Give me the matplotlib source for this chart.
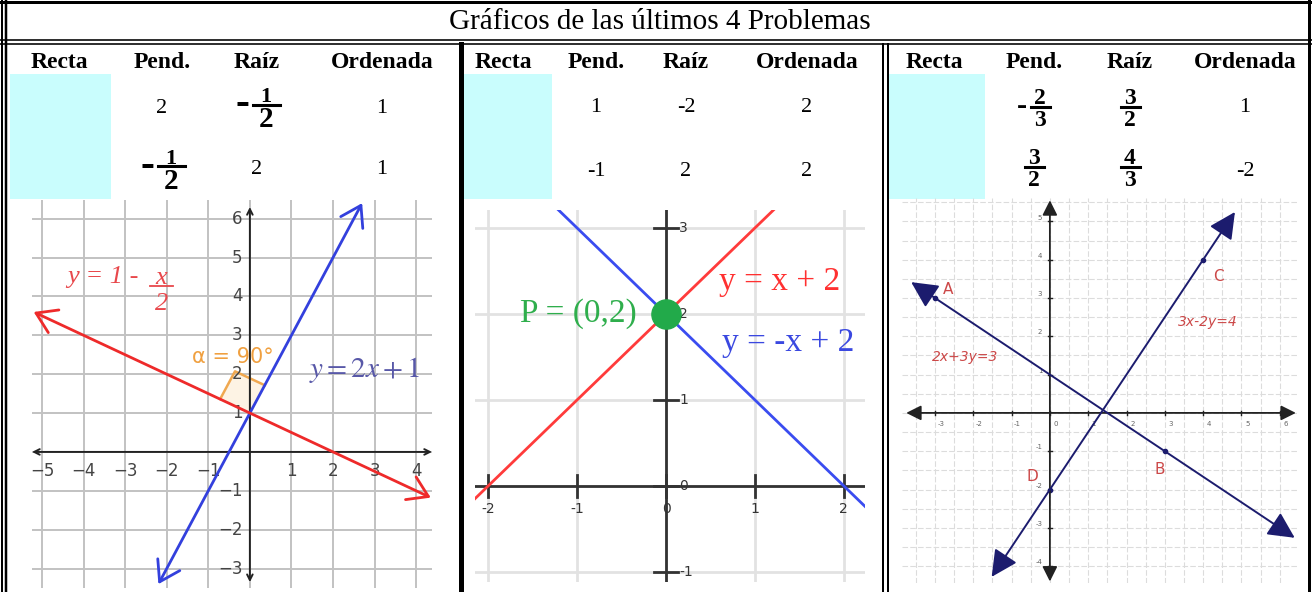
import numpy as np
import matplotlib
matplotlib.use('Agg')
import matplotlib.pyplot as plt
from matplotlib.patches import Rectangle, Polygon

plt.rcParams['mathtext.fontset'] = 'stix'

# ---- datos de las tablas ----
title = 'Gráficos de las últimos 4 Problemas'
headers = ['Recta', 'Pend.', 'Raíz', 'Ordenada']

p1_pend = ['2', '-1/2']
p1_raiz = ['-1/2', '2']
p1_ord = ['1', '1']

p2_pend = ['1', '-1']
p2_raiz = ['-2', '2']
p2_ord = ['2', '2']

p3_pend = ['-2/3', '3/2']
p3_raiz = ['3/2', '4/3']
p3_ord = ['1', '-2']

# ---- datos de los graficos ----
# problema 1: y = m x + b
p1_slopes = [2, -0.5]
p1_intercepts = [1, 1]
p1_xends = [(-2.2, 2.7), (-5.2, 4.35)]
p1_xticks = [-5, -4, -3, -2, -1, 1, 2, 3, 4]
p1_yticks = [-3, -2, -1, 1, 2, 3, 4, 5, 6]

# problema 2
p2_slopes = [1, -1]
p2_intercepts = [2, 2]
p2_point = (0, 2)
p2_ticks_x = [-2, -1, 0, 1, 2]
p2_ticks_y = [-1, 0, 1, 2, 3]

# problema 3: a x + b y = c
p3_a = [2, 3]
p3_b = [3, -2]
p3_c = [3, 4]
p3_xends = [(-3.62, 6.39), (-1.52, 4.83)]
p3_dots_x = [[-3, 3], [4, 0]]
p3_xticks = [-3, -2, -1, 0, 1, 2, 3, 4, 5, 6]
p3_yticks = [-4, -3, -2, -1, 1, 2, 3, 4, 5]

W, H = 1312, 592
fig = plt.figure(figsize=(W / 100, H / 100), dpi=100)
ax0 = fig.add_axes([0, 0, 1, 1])
ax0.set_xlim(0, W)
ax0.set_ylim(H, 0)
ax0.axis('off')

SERIF = 'Liberation Serif'


def px_axes(x0, y0, x1, y1):
    return fig.add_axes([x0 / W, 1 - y1 / H, (x1 - x0) / W, (y1 - y0) / H])


def put_value(x, y, ybar, s, st):
    if '/' not in s:
        ax0.text(x, y, s, ha='center', va='center', fontsize=16, family=SERIF)
        return
    neg = s.startswith('-')
    num, den = s.lstrip('-').split('/')
    cx = x + st['shift'] if neg else x
    w = st['barw']
    ax0.plot([cx - w / 2, cx + w / 2], [ybar, ybar], color='black', lw=2.2)
    ax0.text(cx, ybar - 2.5, num, ha='center', va='baseline', fontsize=st['num_fs'],
             fontweight='bold', family=SERIF)
    ax0.text(cx, ybar + 3 + st['den_fs'] * 1.389 * 0.68, den, ha='center',
             va='baseline', fontsize=st['den_fs'], fontweight='bold', family=SERIF)
    if neg:
        fs = st['minus_fs']
        ax0.text(cx - w / 2 - 3, ybar + 0.23 * fs * 1.389, '-', ha='right',
                 va='baseline', fontsize=fs, fontweight='bold', family=SERIF)


def draw_table(cols, rows_y, bars_y, cyan, pend, raiz, orde, st):
    ax0.add_patch(Rectangle((cyan[0], 74), cyan[1] - cyan[0], 125,
                            color='#c9fdfd', lw=0, zorder=0))
    for cx, h in zip(cols, headers):
        ax0.text(cx, 62, h, ha='center', va='center', fontsize=17,
                 fontweight='bold', family=SERIF)
    for i, (y, yb) in enumerate(zip(rows_y, bars_y)):
        put_value(cols[1], y, yb, pend[i], st)
        put_value(cols[2], y, yb, raiz[i], st)
        put_value(cols[3], y, yb, orde[i], st)


ax0.text(660, 22, title, ha='center', va='center', fontsize=21, family=SERIF)
st1 = dict(barw=27, num_fs=16, den_fs=21, minus_fs=30, shift=9)
st3 = dict(barw=19, num_fs=17, den_fs=17, minus_fs=22, shift=6)
draw_table([59, 162, 257, 382], [108.5, 170], [104.5, 166], (10, 111),
           p1_pend, p1_raiz, p1_ord, st1)
draw_table([503, 596, 686, 807], [107.5, 172], [104, 168], (462, 552),
           p2_pend, p2_raiz, p2_ord, st1)
draw_table([934, 1034, 1130, 1245], [108, 172], [107, 167], (887, 985),
           p3_pend, p3_raiz, p3_ord, st3)

# bordes de la tabla
k = 0.72
ax0.plot([0, W], [1.5, 1.5], color='black', lw=3 * k)
ax0.plot([0, W], [40, 40], color='black', lw=1.6 * k)
ax0.plot([0, W], [44, 44], color='black', lw=1.6 * k)
ax0.plot([1.5, 1.5], [0, H], color='black', lw=2 * k)
ax0.plot([5.5, 5.5], [0, H], color='black', lw=2.5 * k)
ax0.plot([1309, 1309], [0, H], color='black', lw=3 * k)
ax0.plot([460.5, 460.5], [44, H], color='black', lw=5 * k)
ax0.plot([883, 883], [44, H], color='black', lw=2 * k)
ax0.plot([888, 888], [44, H], color='black', lw=2 * k)

# ---------- grafico 1 ----------
ax1 = px_axes(32, 200, 432, 588)
ax1.set_xlim(-5.24, 4.38)
ax1.set_ylim(-3.5, 6.48)
ax1.axis('off')
for x in range(-5, 5):
    ax1.axvline(x, color='#c2c2c2', lw=1.4, zorder=0)
for y in range(-3, 7):
    ax1.axhline(y, color='#c2c2c2', lw=1.4, zorder=0)
ax1.annotate('', xy=(4.38, 0), xytext=(-5.24, 0),
             arrowprops=dict(arrowstyle='<->', color='#222222', lw=1.4,
                             mutation_scale=10, shrinkA=0, shrinkB=0))
ax1.annotate('', xy=(0, 6.3), xytext=(0, -3.35),
             arrowprops=dict(arrowstyle='<->', color='#222222', lw=1.4,
                             mutation_scale=10, shrinkA=0, shrinkB=0))
for x in p1_xticks:
    ax1.text(x, -0.5, str(x).replace('-', '\u2212'), ha='center', va='center',
             fontsize=12, color='#444444')
for y in p1_yticks:
    ax1.text(-0.18, y, str(y).replace('-', '\u2212'), ha='right', va='center',
             fontsize=12, color='#444444')

# angulo recto
r = np.array([-2, 1]) / np.sqrt(5)
b = np.array([1, 2]) / np.sqrt(5)
o = np.array([0, 1])
s = 0.8
pts = [o, o + s * r, o + s * (r + b), o + s * b]
ax1.add_patch(Polygon(pts, closed=True, fc='#f6b04a', alpha=0.15, lw=0))
ax1.plot([pts[1][0], pts[2][0], pts[3][0]], [pts[1][1], pts[2][1], pts[3][1]],
         color='#f0a850', lw=1.8)

p1_colors = ['#3340dd', '#ee2a2a']
for m, c, (xa, xb), col in zip(p1_slopes, p1_intercepts, p1_xends, p1_colors):
    ax1.annotate('', xy=(xb, m * xb + c), xytext=(xa, m * xa + c),
                 arrowprops=dict(arrowstyle='<->,head_length=0.7,head_width=0.45',
                                 color=col, lw=2, mutation_scale=20,
                                 shrinkA=0, shrinkB=0))
red_lab = '#e8484c'
ax1.text(-4.4, 4.5, 'y = 1 -', color=red_lab, fontsize=19, family=SERIF,
         style='italic', ha='left', va='center')
ax1.text(-2.13, 4.33, 'x', color=red_lab, fontsize=19, family=SERIF,
         style='italic', ha='center', va='baseline')
ax1.plot([-2.4, -1.86], [4.27, 4.27], color=red_lab, lw=1.3)
ax1.text(-2.13, 3.66, '2', color=red_lab, fontsize=19, family=SERIF,
         style='italic', ha='center', va='baseline')
ax1.text(-0.4, 2.45, 'α = 90°', color='#f0a040', fontsize=15, ha='center', va='center')
ax1.text(2.75, 2.1, r'$y = 2x + 1$', color='#5858a8', fontsize=21,
         ha='center', va='center')

# ---------- grafico 2 ----------
ax2 = px_axes(475, 210, 865, 582)
ax2.set_xlim(-2.15, 2.24)
ax2.set_ylim(-1.12, 3.21)
ax2.axis('off')
for x in p2_ticks_x:
    ax2.axvline(x, color='#e2e2e2', lw=2, zorder=0)
for y in p2_ticks_y:
    ax2.axhline(y, color='#e2e2e2', lw=2, zorder=0)
ax2.axhline(0, color='#333333', lw=2, zorder=1)
ax2.axvline(0, color='#333333', lw=2, zorder=1)
for x in p2_ticks_x:
    ax2.plot([x, x], [-0.13, 0.13], color='#333333', lw=2)
    ax2.text(x, -0.27, str(x), ha='center', va='center', fontsize=10, color='#333333')
for y in p2_ticks_y:
    ax2.plot([-0.13, 0.13], [y, y], color='#333333', lw=2)
    ax2.text(0.15, y, str(y), ha='left', va='center', fontsize=10, color='#333333')
xx = np.array([-2.15, 2.24])
p2_colors = ['#ff3b3b', '#3a4cf0']
for m, c, col in zip(p2_slopes, p2_intercepts, p2_colors):
    ax2.plot(xx, m * xx + c, color=col, lw=2)
ax2.plot(*p2_point, 'o', ms=21, color='#22aa4a', zorder=5)
ax2.text(-0.33, 2.0, 'P = (0,2)', color='#2fae4c', fontsize=24, family=SERIF,
         ha='right', va='center')
ax2.text(0.6, 2.37, 'y = x + 2', color='#ff3030', fontsize=24, family=SERIF,
         ha='left', va='center')
ax2.text(0.63, 1.67, 'y = -x + 2', color='#3a48e0', fontsize=24, family=SERIF,
         ha='left', va='center')

# ---------- grafico 3 ----------
ax3 = px_axes(902, 198, 1297, 583)
ax3.set_xlim(-3.86, 6.45)
ax3.set_ylim(-4.44, 5.61)
ax3.axis('off')
for x in np.arange(-3.5, 6.5, 0.5):
    ax3.axvline(x, color='#dcdcdc', lw=0.8, ls=(0, (5, 2)), zorder=0)
for y in np.arange(-4.0, 5.6, 0.5):
    ax3.axhline(y, color='#dcdcdc', lw=0.8, ls=(0, (5, 2)), zorder=0)
ax3.annotate('', xy=(6.42, 0), xytext=(-3.75, 0),
             arrowprops=dict(arrowstyle='<|-|>,head_length=0.6,head_width=0.3',
                             color='#222222', lw=1.3, mutation_scale=15,
                             shrinkA=0, shrinkB=0))
ax3.annotate('', xy=(0, 5.55), xytext=(0, -4.4),
             arrowprops=dict(arrowstyle='<|-|>,head_length=0.6,head_width=0.3',
                             color='#222222', lw=1.3, mutation_scale=15,
                             shrinkA=0, shrinkB=0))
for x in p3_xticks:
    ax3.plot([x, x], [-0.05, 0.05], color='#222222', lw=1)
    ax3.text(x + 0.15, -0.3, str(x), ha='center', va='center', fontsize=5, color='#666666')
for y in p3_yticks:
    ax3.plot([-0.05, 0.05], [y, y], color='#222222', lw=1)
    ax3.text(-0.2, y + 0.1, str(y), ha='right', va='center', fontsize=5, color='#666666')

navy = '#1c1c6e'
for a, bb, c, (xa, xb), dx in zip(p3_a, p3_b, p3_c, p3_xends, p3_dots_x):
    ya = (c - a * xa) / bb
    yb = (c - a * xb) / bb
    ax3.annotate('', xy=(xb, yb), xytext=(xa, ya),
                 arrowprops=dict(arrowstyle='<|-|>,head_length=0.9,head_width=0.45',
                                 color=navy, lw=1.4, mutation_scale=18,
                                 shrinkA=0, shrinkB=0))
    dx = np.array(dx, dtype=float)
    ax3.plot(dx, (c - a * dx) / bb, 'o', ms=3, color=navy)

lab = '#cc4848'
ax3.text(-2.66, 3.21, 'A', color=lab, fontsize=11, ha='center', va='center')
ax3.text(4.39, 3.55, 'C', color=lab, fontsize=11, ha='center', va='center')
ax3.text(-0.47, -1.67, 'D', color=lab, fontsize=11, ha='center', va='center')
ax3.text(2.87, -1.49, 'B', color=lab, fontsize=11, ha='center', va='center')
ax3.text(4.12, 2.38, '3x-2y=4', color=lab, fontsize=10, style='italic',
         ha='center', va='center')
ax3.text(-2.22, 1.46, '2x+3y=3', color=lab, fontsize=10, style='italic',
         ha='center', va='center')

fig.savefig('out.png', dpi=100)
